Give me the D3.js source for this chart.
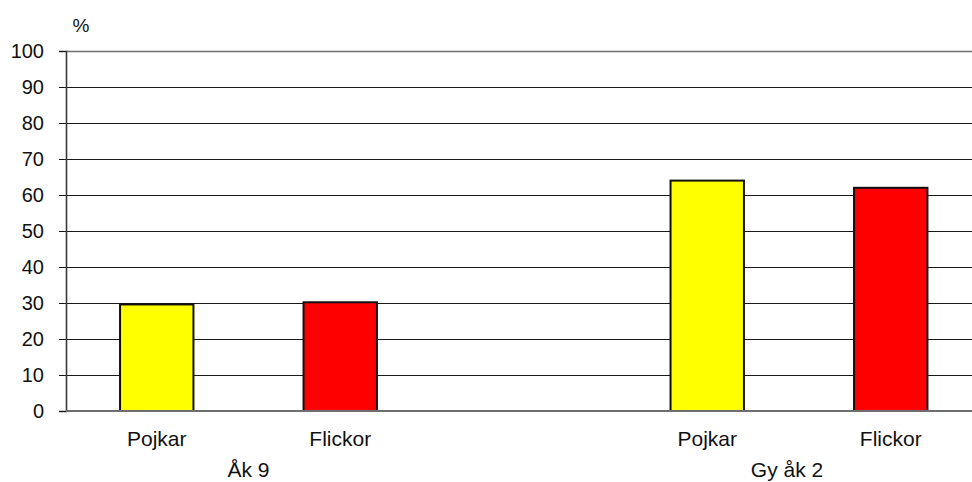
<!DOCTYPE html>
<html>
<head>
<meta charset="utf-8">
<script src="https://cdn.jsdelivr.net/npm/d3@7"></script>
<style>
  html, body { margin: 0; padding: 0; background: #fff; }
  svg { display: block; font-family: "Liberation Sans", Arial, sans-serif; }
</style>
</head>
<body>
<svg id="chart" width="972" height="482"></svg>
<script>
// Share (%) by school year and gender
const groups = ["Åk 9", "Gy åk 2"];
const genders = ["Pojkar", "Flickor"];
const values = [
  [29.6, 30.2],   // Åk 9
  [64.0, 62.0]    // Gy åk 2
];
const colors = ["#ffff00", "#ff0000"];
const yTicks = [0, 10, 20, 30, 40, 50, 60, 70, 80, 90, 100];
const yUnit = "%";

(function () {
  const svg = d3.select("#chart");
  const W = 972;
  const plotLeft = 66, plotTop = 51, plotBottom = 411;

  // Slots: two bars per group, an empty slot between the groups
  const slots = [];
  groups.forEach((g, gi) => {
    genders.forEach((s, si) => slots.push({ key: g + "|" + s, group: g, gender: s, value: values[gi][si], color: colors[si] }));
    if (gi < groups.length - 1) slots.push({ key: "gap" + gi, gap: true });
  });

  const x = d3.scaleBand()
    .domain(slots.map(d => d.key))
    .range([plotLeft - 1, plotLeft - 1 + 5 * 183.5])
    .paddingInner(0.6)
    .paddingOuter(0.3);

  const y = d3.scaleLinear().domain([0, 100]).range([plotBottom, plotTop]);

  // Horizontal gridlines
  svg.append("g")
    .selectAll("line")
    .data(yTicks.filter(t => t > 0))
    .join("line")
    .attr("x1", plotLeft).attr("x2", W)
    .attr("y1", d => Math.round(y(d)) + 0.5).attr("y2", d => Math.round(y(d)) + 0.5)
    .attr("stroke", d => d === 100 ? "#6e6e6e" : "#1a1a1a")
    .attr("stroke-width", d => d === 100 ? 1.6 : 1);

  // Y axis with ticks on the left
  const yAxis = d3.axisLeft(y).tickValues(yTicks).tickSize(7).tickPadding(15).tickFormat(d3.format("d"));
  const ya = svg.append("g").attr("transform", `translate(${plotLeft},0)`).call(yAxis);
  ya.select(".domain").attr("stroke", "#3a3a3a").attr("stroke-width", 1.6);
  ya.selectAll(".tick line").attr("stroke", "#1a1a1a");
  ya.selectAll(".tick text")
    .attr("fill", "#111")
    .style("font-size", "20px")
    .style("font-family", "'Liberation Sans', Arial, sans-serif");

  // Unit label
  svg.append("text")
    .attr("x", plotLeft + 15).attr("y", 25)
    .attr("text-anchor", "middle").attr("dominant-baseline", "central")
    .style("font-size", "19px").attr("fill", "#111")
    .text(yUnit);

  // Bars
  const bars = slots.filter(d => !d.gap);
  svg.append("g")
    .selectAll("rect")
    .data(bars)
    .join("rect")
    .attr("x", d => x(d.key))
    .attr("width", x.bandwidth())
    .attr("y", d => y(d.value))
    .attr("height", d => y(0) - y(d.value))
    .attr("fill", d => d.color)
    .attr("stroke", "#111")
    .attr("stroke-width", 2);

  // Baseline (zero line)
  svg.append("line")
    .attr("x1", plotLeft).attr("x2", W)
    .attr("y1", y(0)).attr("y2", y(0))
    .attr("stroke", "#6e6e6e").attr("stroke-width", 2);

  // Category labels under each bar
  svg.append("g")
    .selectAll("text")
    .data(bars)
    .join("text")
    .attr("x", d => x(d.key) + x.bandwidth() / 2)
    .attr("y", 438)
    .attr("text-anchor", "middle").attr("dominant-baseline", "central")
    .style("font-size", "21px").attr("fill", "#111")
    .text(d => d.gender);

  // Group labels
  svg.append("g")
    .selectAll("text")
    .data(groups)
    .join("text")
    .attr("x", (g, i) => {
      const k = bars.filter(b => b.group === g).map(b => x(b.key) + x.bandwidth() / 2);
      return d3.mean(k) - (i === 1 ? 12 : 0);
    })
    .attr("y", 469)
    .attr("text-anchor", "middle").attr("dominant-baseline", "central")
    .style("font-size", "21px").attr("fill", "#111")
    .text(d => d);
})();
</script>
</body>
</html>
